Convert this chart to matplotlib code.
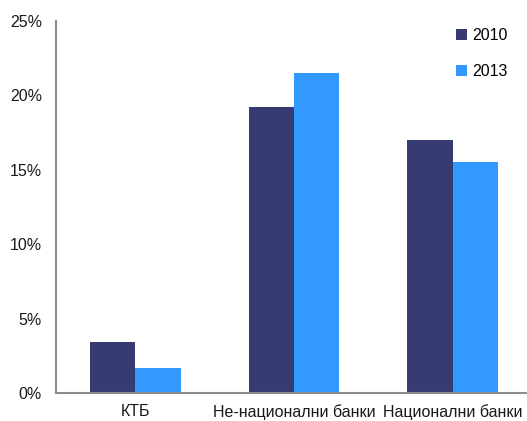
import numpy as np
import matplotlib.pyplot as plt
from matplotlib.ticker import PercentFormatter

categories = ['КТБ', 'Не-национални банки', 'Национални банки']
series_names = ['2010', '2013']
values_2010 = [3.4, 19.2, 17.0]
values_2013 = [1.7, 21.5, 15.5]
yticks = [0, 5, 10, 15, 20, 25]

plt.rcParams['font.family'] = ['Liberation Sans', 'DejaVu Sans']

fig = plt.figure(figsize=(5.27, 4.21), dpi=100)
ax = fig.add_axes([56 / 527, 28 / 421, 476 / 527, 372 / 421])

x = np.arange(len(categories))
w = 0.285
ax.bar(x - w / 2, values_2010, w, color='#363c72', label=series_names[0])
ax.bar(x + w / 2, values_2013, w, color='#3399ff', label=series_names[1])

ax.set_xlim(-0.5, 2.5)
ax.set_ylim(0, 25)
ax.set_yticks(yticks)
ax.yaxis.set_major_formatter(PercentFormatter(decimals=0))
ax.set_xticks(x)
ax.set_xticklabels(categories)
ax.tick_params(axis='both', length=0, labelsize=11.5, colors='#1a1a1a')
ax.tick_params(axis='y', pad=10)
ax.tick_params(axis='x', pad=8)

for s in ['top', 'right']:
    ax.spines[s].set_visible(False)
for s in ['left', 'bottom']:
    ax.spines[s].set_color('#8c8c8c')
    ax.spines[s].set_linewidth(1.5)

ax.legend(loc='upper left', bbox_to_anchor=(0.81, 1.02), frameon=False,
          handlelength=0.7, handleheight=0.7, handletextpad=0.3,
          labelspacing=1.35, fontsize=11.5)

fig.savefig('out.png', dpi=100)
